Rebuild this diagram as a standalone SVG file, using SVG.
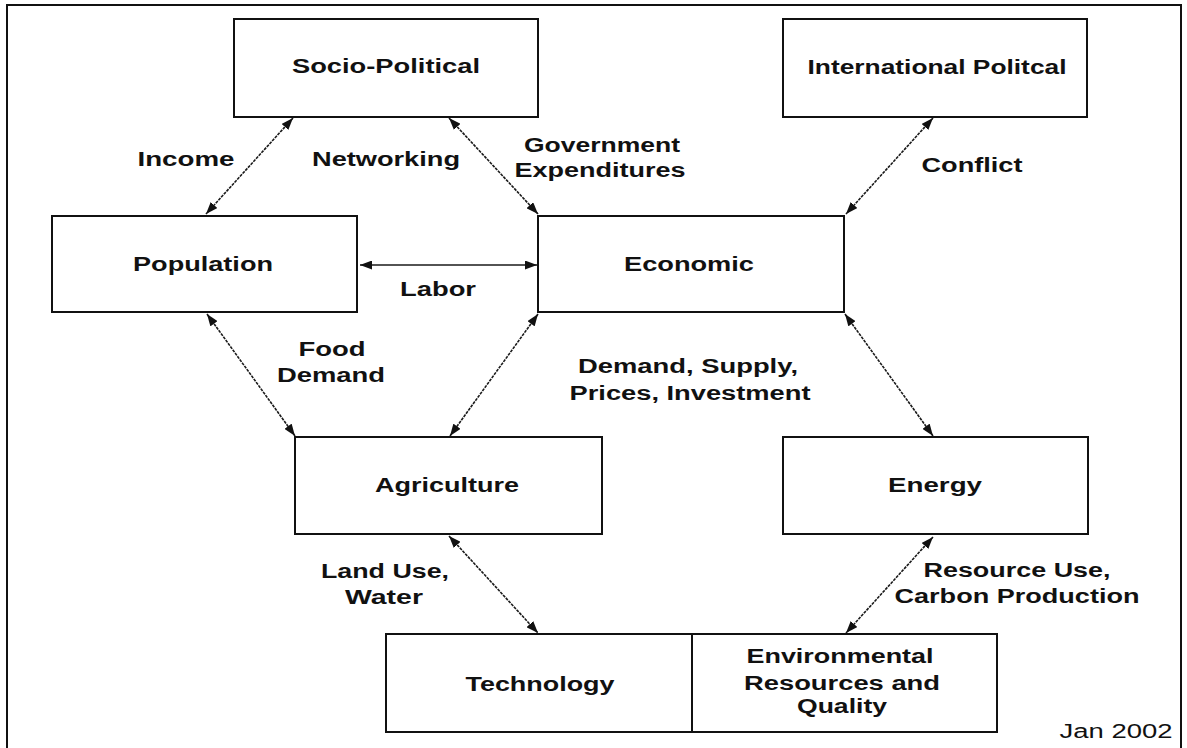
<svg xmlns="http://www.w3.org/2000/svg" width="1187" height="748" viewBox="0 0 1187 748">
<style>
.box{fill:#fff;stroke:#111;stroke-width:2}
.t{font-family:"Liberation Sans",Arial,sans-serif;font-weight:bold;font-size:20px;fill:#111;text-anchor:middle}
.r{font-family:"Liberation Sans",Arial,sans-serif;font-size:20px;fill:#111;text-anchor:middle}
.c{stroke:#1a1a1a;stroke-width:1.6;stroke-dasharray:3 1;fill:none;marker-start:url(#ah);marker-end:url(#ah)}
.s{stroke-dasharray:none}
</style>
<defs>
<marker id="ah" viewBox="0 0 12 9" refX="12" refY="4.5" markerWidth="12" markerHeight="9" markerUnits="userSpaceOnUse" orient="auto-start-reverse">
<path d="M0,0 L12,4.5 L0,9 z" fill="#111"/>
</marker>
</defs>
<rect x="0" y="0" width="1187" height="748" fill="#fff"/>
<rect id="frame" x="7" y="5" width="1174" height="750" fill="none" stroke="#111" stroke-width="2"/>
<g id="connectors">
<line class="c" x1="293" y1="118" x2="206" y2="214"/>
<line class="c" x1="449" y1="118" x2="538" y2="214"/>
<line class="c" x1="933" y1="118" x2="846" y2="214"/>
<line class="c s" x1="360" y1="265" x2="537" y2="265"/>
<line class="c" x1="207" y1="314" x2="295" y2="436"/>
<line class="c" x1="538" y1="314" x2="450" y2="436"/>
<line class="c" x1="845" y1="314" x2="933" y2="436"/>
<line class="c" x1="449" y1="536" x2="538" y2="633"/>
<line class="c" x1="933" y1="537" x2="846" y2="633"/>
</g>
<g id="socio-political"><rect class="box" x="234" y="19" width="304" height="98"/><text class="t" x="386" y="73" textLength="188" lengthAdjust="spacingAndGlyphs">Socio-Political</text></g>
<g id="international-political"><rect class="box" x="783" y="19" width="304" height="98"/><text class="t" x="937" y="74" textLength="259" lengthAdjust="spacingAndGlyphs">International Politcal</text></g>
<g id="population"><rect class="box" x="52" y="216" width="305" height="96"/><text class="t" x="203" y="271" textLength="140" lengthAdjust="spacingAndGlyphs">Population</text></g>
<g id="economic"><rect class="box" x="538" y="216" width="306" height="96"/><text class="t" x="689" y="271" textLength="130" lengthAdjust="spacingAndGlyphs">Economic</text></g>
<g id="agriculture"><rect class="box" x="295" y="437" width="307" height="97"/><text class="t" x="447" y="492" textLength="144" lengthAdjust="spacingAndGlyphs">Agriculture</text></g>
<g id="energy"><rect class="box" x="783" y="437" width="305" height="97"/><text class="t" x="935" y="492" textLength="94" lengthAdjust="spacingAndGlyphs">Energy</text></g>
<g id="technology"><rect class="box" x="386" y="634" width="306" height="98"/><text class="t" x="540" y="691" textLength="149" lengthAdjust="spacingAndGlyphs">Technology</text></g>
<g id="environmental"><rect class="box" x="692" y="634" width="305" height="98"/>
<text class="t" x="840" y="663" textLength="187" lengthAdjust="spacingAndGlyphs">Environmental</text>
<text class="t" x="842" y="690" textLength="196" lengthAdjust="spacingAndGlyphs">Resources and</text>
<text class="t" x="842" y="713" textLength="90" lengthAdjust="spacingAndGlyphs">Quality</text></g>
<g id="labels">
<text class="t" x="186" y="166" textLength="97" lengthAdjust="spacingAndGlyphs">Income</text>
<text class="t" x="386" y="166" textLength="148" lengthAdjust="spacingAndGlyphs">Networking</text>
<text class="t" x="602" y="152" textLength="156" lengthAdjust="spacingAndGlyphs">Government</text>
<text class="t" x="600" y="177" textLength="171" lengthAdjust="spacingAndGlyphs">Expenditures</text>
<text class="t" x="972" y="172" textLength="101" lengthAdjust="spacingAndGlyphs">Conflict</text>
<text class="t" x="438" y="296" textLength="76" lengthAdjust="spacingAndGlyphs">Labor</text>
<text class="t" x="332" y="356" textLength="67" lengthAdjust="spacingAndGlyphs">Food</text>
<text class="t" x="331" y="382" textLength="108" lengthAdjust="spacingAndGlyphs">Demand</text>
<text class="t" x="688" y="373" textLength="220" lengthAdjust="spacingAndGlyphs">Demand, Supply,</text>
<text class="t" x="690" y="400" textLength="241" lengthAdjust="spacingAndGlyphs">Prices, Investment</text>
<text class="t" x="385" y="578" textLength="128" lengthAdjust="spacingAndGlyphs">Land Use,</text>
<text class="t" x="384" y="604" textLength="78" lengthAdjust="spacingAndGlyphs">Water</text>
<text class="t" x="1017" y="577" textLength="187" lengthAdjust="spacingAndGlyphs">Resource Use,</text>
<text class="t" x="1017" y="603" textLength="245" lengthAdjust="spacingAndGlyphs">Carbon Production</text>
<text class="r" x="1116" y="738" textLength="113" lengthAdjust="spacingAndGlyphs">Jan 2002</text>
</g>
</svg>
